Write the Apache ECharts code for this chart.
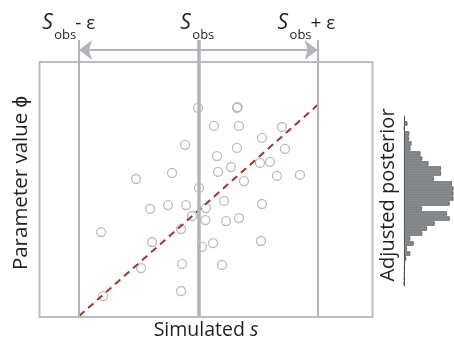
<!DOCTYPE html>
<html>
<head>
<meta charset="utf-8">
<script src="https://cdn.jsdelivr.net/npm/echarts@6/dist/echarts.min.js"></script>
<style>
  html, body { margin: 0; padding: 0; background: #fff; }
  #chart { width: 454px; height: 344px; }
</style>
</head>
<body>
<div id="chart"></div>
<script>
// simulated summary statistic s and parameter value phi for each simulation
const simulatedS = [4.76, 5.93, 5.95, 4.37, 3.98, 2.90, 4.79, 5.24, 5.99, 7.28, 6.68, 5.93, 7.37, 5.33,
  5.75, 6.62, 6.92, 5.36, 6.14, 7.13, 7.82, 5.54, 6.68, 3.32, 3.86, 4.40, 4.58, 5.00, 1.85, 4.25, 3.38,
  4.98, 4.88, 3.05, 4.28, 4.25, 1.91, 5.60, 5.99, 5.21, 6.65, 5.48];
const parameterPhi = [8.20, 8.20, 8.23, 6.75, 5.65, 5.41, 5.06, 7.49, 7.49, 7.45, 7.02, 6.63, 6.59, 6.31,
  5.88, 6.04, 6.08, 5.69, 5.33, 5.53, 5.57, 4.55, 4.43, 4.24, 4.39, 4.39, 3.96, 4.27, 3.33, 3.45, 2.94,
  3.80, 2.75, 1.92, 2.08, 1.02, 0.82, 3.76, 3.88, 2.90, 2.98, 2.04];

const sObs = 4.77;
const epsilon = 3.58;
const arrowLevel = 10.47;
const fitStart = [1.19, 0.04];
const fitEnd = [8.35, 8.31];

// adjusted posterior histogram, top bin first
const posteriorCounts = [1, 3.5, 0.5, 5.3, 5, 7.5, 6.5, 16.5, 18.3, 24.5, 37, 37, 30, 48, 49.5, 49.5,
  49.5, 45.7, 18, 43, 45.7, 30.7, 23, 18.3, 6.3, 9.7, 3, 6.3, 2.3, 1, 0.7, 0.7, 0.5, 0.3];
const posteriorBins = posteriorCounts.map((_, i) => 'bin' + i);

const FONT = '"Open Sans", sans-serif';
const INK = '#231f20';
const GRAY = '#b1b5bb';

const chart = echarts.init(document.getElementById('chart'));

chart.setOption({
  animation: false,
  grid: [
    { left: 39.5, top: 40, width: 333, height: 277 },
    { left: 39.5, top: 62, width: 333, height: 255, show: true, borderColor: '#babec4', borderWidth: 2 },
    { left: 404, top: 116, width: 50, height: 170 }
  ],
  xAxis: [
    { gridIndex: 0, type: 'value', min: 0, max: 10, show: false },
    { gridIndex: 1, type: 'value', min: 0, max: 1, show: false },
    { gridIndex: 2, type: 'value', min: 0, max: 50, show: false }
  ],
  yAxis: [
    { gridIndex: 0, type: 'value', min: 0, max: 10.86, show: false },
    { gridIndex: 1, type: 'value', min: 0, max: 1, show: false },
    {
      gridIndex: 2, type: 'category', data: posteriorBins, inverse: true,
      axisLine: { show: true, lineStyle: { color: '#4a4d50', width: 1 } },
      axisTick: { show: false }, axisLabel: { show: false }, splitLine: { show: false }
    }
  ],
  series: [
    {
      type: 'scatter',
      xAxisIndex: 0, yAxisIndex: 0,
      data: simulatedS.map((s, i) => [s, parameterPhi[i]]),
      symbolSize: 9,
      itemStyle: { color: 'rgba(0,0,0,0)', borderColor: '#a7abb1', borderWidth: 1.3 },
      z: 3,
      markLine: {
        silent: true,
        symbol: ['none', 'none'],
        label: { show: false },
        lineStyle: { color: GRAY, type: 'solid', width: 2 },
        data: [
          { xAxis: sObs - epsilon },
          { xAxis: sObs, lineStyle: { color: GRAY, type: 'solid', width: 3.5 } },
          { xAxis: sObs + epsilon },
          [
            { coord: [sObs - epsilon, arrowLevel], symbol: 'arrow', symbolSize: [15, 13] },
            { coord: [sObs + epsilon, arrowLevel], symbol: 'arrow', symbolSize: [15, 13] }
          ]
        ]
      }
    },
    {
      type: 'line',
      xAxisIndex: 0, yAxisIndex: 0,
      data: [fitStart, fitEnd],
      showSymbol: false,
      lineStyle: { color: '#a6322c', width: 2, type: [7, 5] },
      z: 4
    },
    {
      type: 'bar',
      xAxisIndex: 2, yAxisIndex: 2,
      data: posteriorCounts,
      barCategoryGap: '12%',
      itemStyle: { color: '#878c91', borderColor: '#52575c', borderWidth: 0.8 }
    }
  ]
});

const px = v => chart.convertToPixel({ xAxisIndex: 0 }, v);
const lineL = px(sObs - epsilon);
const lineC = px(sObs);
const lineR = px(sObs + epsilon);

function sLabel(x, tail) {
  const parts = [
    { type: 'text', x: x, y: 23, style: { text: 'S', fontFamily: FONT, fontSize: 21, fontStyle: 'italic', fill: INK, verticalAlign: 'middle' } },
    { type: 'text', x: x + 12, y: 35.5, style: { text: 'obs', fontFamily: FONT, fontSize: 13, fill: INK, verticalAlign: 'middle' } }
  ];
  if (tail) {
    parts.push({ type: 'text', x: x + 33, y: 23.5, style: { text: tail, fontFamily: FONT, fontSize: 19, fill: INK, verticalAlign: 'middle' } });
  }
  return parts;
}

chart.setOption({
  graphic: [
    ...sLabel(lineL - 37, '- ε'),
    ...sLabel(lineC - 18, null),
    ...sLabel(lineR - 40, '+ ε'),
    {
      type: 'text', x: 21, y: 183, rotation: Math.PI / 2,
      style: { text: 'Parameter value ϕ', fontFamily: FONT, fontSize: 20.5, fill: INK, align: 'center', verticalAlign: 'middle' }
    },
    {
      type: 'text', x: 388, y: 195, rotation: Math.PI / 2,
      style: { text: 'Adjusted posterior', fontFamily: FONT, fontSize: 20, fill: INK, align: 'center', verticalAlign: 'middle' }
    },
    {
      type: 'text', x: 206, y: 330,
      style: {
        text: '{a|Simulated }{b|s}', align: 'center', verticalAlign: 'middle',
        rich: {
          a: { fontFamily: FONT, fontSize: 19.5, fill: INK },
          b: { fontFamily: FONT, fontSize: 19.5, fontStyle: 'italic', fill: INK }
        }
      }
    }
  ]
});
</script>
</body>
</html>
